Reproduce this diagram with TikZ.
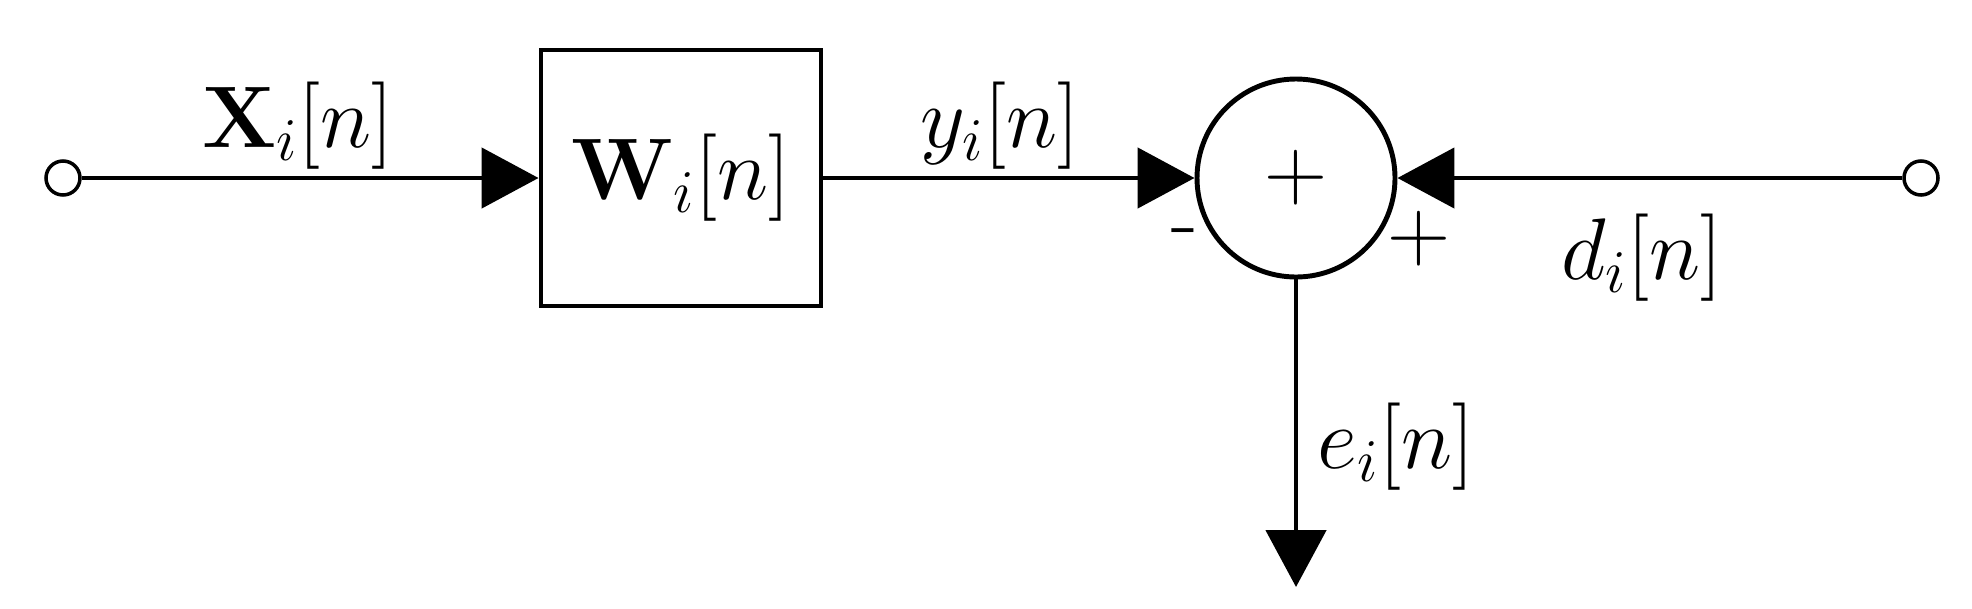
\documentclass[tikz,border=0pt]{standalone}
\usepackage{amsmath}
\usetikzlibrary{arrows.meta}
\tikzset{
  sig/.style={-{Triangle[length=5.7mm,width=6mm]},line width=1.4pt},
  term/.style={circle,draw,line width=1pt,inner sep=0pt,minimum size=3.4mm},
  lbl/.style={inner sep=0pt,font=\fontsize{25}{30}\selectfont},
}
\begin{document}
\begin{tikzpicture}
  \useasboundingbox (0,0) rectangle (19.72,6.08);
  \node [style=term] (in) at (0.63, 4.30) {};
  \node [draw,line width=1.4pt,minimum width=2.8cm,minimum height=2.56cm,style=lbl] (w) at (6.81, 4.30) {$\mathbf{W}_i[n]$};
  \node [circle,draw,line width=1.4pt,minimum size=1.98cm,inner sep=0pt] (sum) at (12.96, 4.30) {};
  \node [style=lbl,font=\fontsize{40}{40}\selectfont] (plus) at (sum.center) {$+$};
  \node [style=term] (out) at (19.21, 4.30) {};
  \coordinate (e) at (12.96, 0.21);
  \node [style=lbl] (x) at (2.98, 4.82) {$\mathbf{X}_i[n]$};
  \node [style=lbl] (y) at (10.0, 4.82) {$y_i[n]$};
  \node [style=lbl] (d) at (16.42, 3.50) {$d_i[n]$};
  \node [style=lbl] (el) at (13.96, 1.61) {$e_i[n]$};
  \node [style=lbl] (m) at (11.85, 3.69) {-};
  \node [style=lbl] (p) at (14.19, 3.69) {$+$};
  \draw [style=sig] (in) to (w);
  \draw [style=sig] (w) to (sum);
  \draw [style=sig] (out) to (sum);
  \draw [style=sig] (sum) to (e);
\end{tikzpicture}
\end{document}
